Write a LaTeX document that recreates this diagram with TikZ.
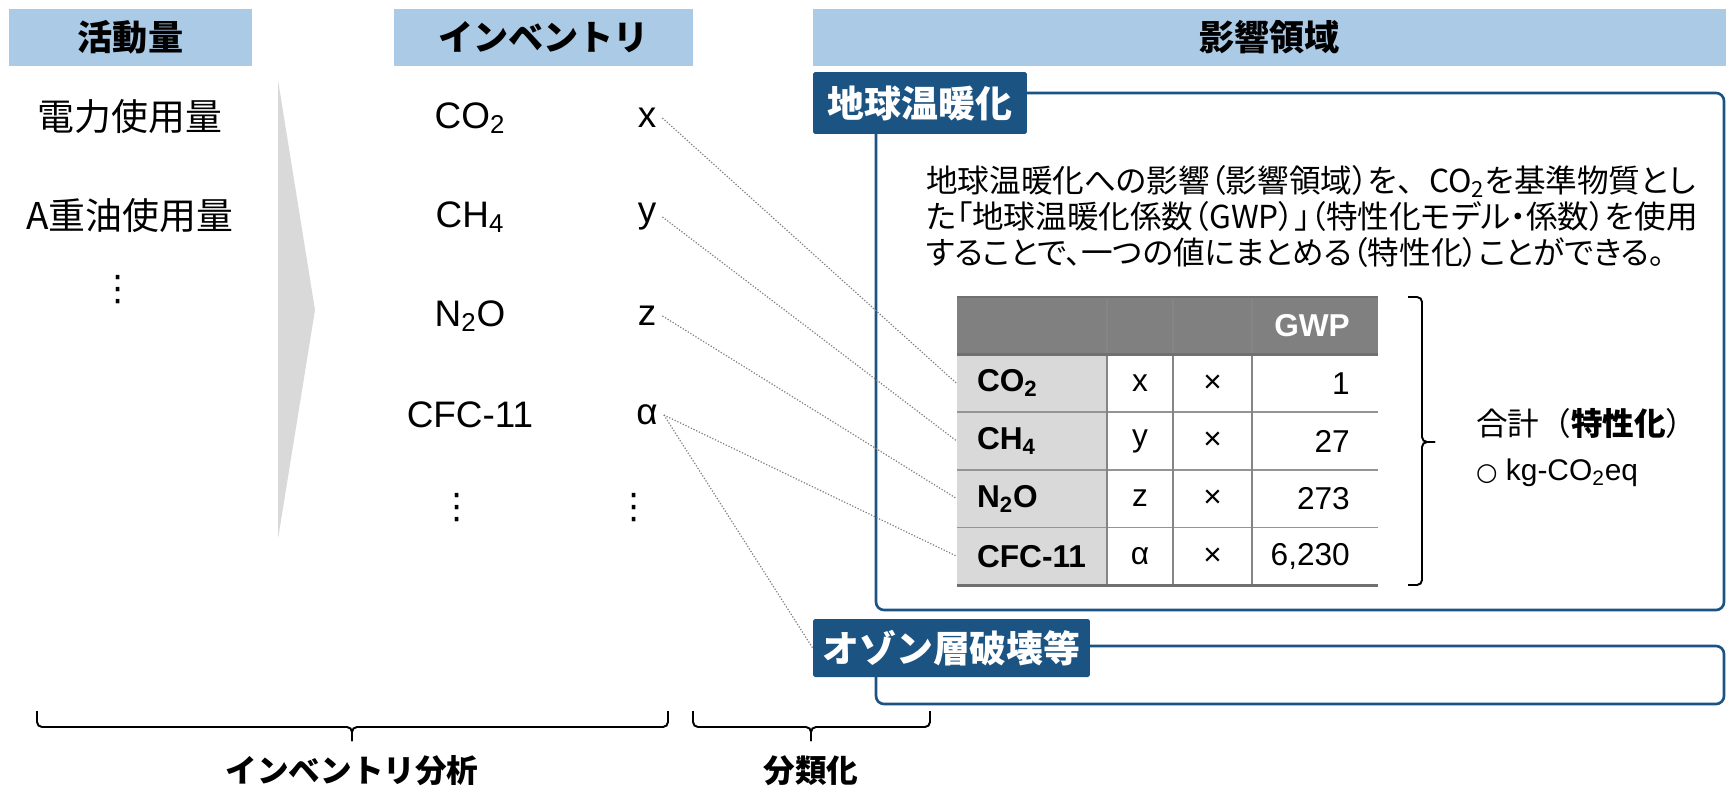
\documentclass[tikz,border=0pt]{standalone}
\usepackage{fontspec}
\setmainfont{Liberation Sans}
\newfontfamily\jp{Noto Sans CJK JP}
\newfontfamily\jpp[RawFeature=+palt]{Noto Sans CJK JP}
\newfontfamily\sym{DejaVu Sans}
\usetikzlibrary{positioning}
\definecolor{hdrblue}{RGB}{170,202,230}
\definecolor{tagblue}{RGB}{27,83,130}
\definecolor{tabdark}{RGB}{128,128,128}
\definecolor{tablight}{RGB}{217,217,217}
\definecolor{tabline}{RGB}{112,112,112}

\begin{document}
\begin{tikzpicture}
  [x=0.02cm,y=-0.02cm,
  hdr/.style={rectangle,fill=hdrblue,inner sep=0pt,minimum height=1.14cm,font=\jp\bfseries\fontsize{20}{24}\selectfont},
  tagbox/.style={rectangle,fill=tagblue,text=white,inner sep=0pt,rounded corners=1pt,font=\jp\bfseries\fontsize{21}{25}\selectfont},
  impframe/.style={draw=tagblue,line width=1.5pt,rounded corners=0.16cm},
  word/.style={font=\jp\fontsize{21}{25}\selectfont},
  gas/.style={font=\fontsize{21}{25}\selectfont},
  dots/.style={font=\sym\fontsize{20}{24}\selectfont},
  namecell/.style={rectangle,fill=tablight,inner xsep=0.4cm,inner ysep=0pt,text width=2.2cm,align=left,minimum height=1.152cm,font=\bfseries\fontsize{18}{22}\selectfont},
  val/.style={font=\fontsize{18}{22}\selectfont},
  link/.style={densely dotted,gray,line width=0.7pt},
  brc/.style={line width=1.1pt,rounded corners=0.1cm},
  sum/.style={font=\bfseries\jp\fontsize{18}{22}\selectfont}]
  \useasboundingbox (0,0) rectangle (1726,794);

  % headers
  \node[hdr,minimum width=4.86cm] (act) at (130.5,37.5) {活動量};
  \node[hdr,minimum width=5.98cm] (inv) at (543.5,37.5) {インベントリ};
  \node[hdr,minimum width=18.26cm] (imp) at (1269.5,37.5) {影響領域};

  % activity data
  \node[word] (elec) at (130,117) {電力使用量};
  \node[word] (oil) at (130,216) {A重油使用量};
  \node[dots] (actdots) at (118,290) {⋮};
  \fill[tablight] (278,80) -- (315,310) -- (278,539) -- cycle;

  % inventory
  \node[gas] (co2) at (470,118) {CO\textsubscript{2}};
  \node[gas] (ch4) at (470,217) {CH\textsubscript{4}};
  \node[gas] (n2o) at (470,316) {N\textsubscript{2}O};
  \node[gas] (cfc) at (470,415) {CFC-11};
  \node[dots] (gasdots) at (457,508) {⋮};
  \node[gas] (gx) at (647,118) {x};
  \node[gas] (gy) at (647,217) {y};
  \node[gas] (gz) at (647,316) {z};
  \node[gas] (ga) at (647,415) {α};
  \node[dots] (amtdots) at (634,508) {⋮};

  % impact categories
  \draw[impframe] (876,93) rectangle (1724,610);
  \draw[impframe] (876,646) rectangle (1724,704);
  \node[tagbox,minimum width=4.28cm,minimum height=1.24cm] (gw) at (920,103) {地球温暖化};
  \node[tagbox,minimum width=5.54cm,minimum height=1.16cm] (oz) at (951.5,648) {オゾン層破壊等};
  \node[anchor=west,align=left,font=\jpp\fontsize{18}{20.5}\selectfont] (desc) at (920,216)
    {地球温暖化への影響（影響領域）を{\jp 、}CO\textsubscript{2}を基準物質とし\\
     た「地球温暖化係数（GWP）」（特性化モデル・係数）を使用\\
     することで、一つの値にまとめる（特性化）ことができる。};

  % GWP table
  \fill[tabdark] (957,297) rectangle (1378,354.6);
  \node[namecell] (c1) at (1032,383.4) {CO\textsubscript{2}};
  \node[namecell] (c2) at (1032,441) {CH\textsubscript{4}};
  \node[namecell] (c3) at (1032,498.6) {N\textsubscript{2}O};
  \node[namecell] (c4) at (1032,556.2) {CFC-11};
  \foreach \y in {412.2,469.8,527.4}
    \draw[tabline!75,line width=1pt] (957,\y) -- (1378,\y);
  \foreach \x in {1107,1173,1252}
    \draw[tabline!85,line width=0.8pt] (\x,297) -- (\x,585);
  \draw[tabline,line width=1.2pt] (957,297) -- (1378,297);
  \draw[tabline,line width=1.7pt] (957,354.6) -- (1378,354.6);
  \draw[tabline,line width=1.7pt] (957,585) -- (1378,585);
  \node[val,anchor=east,text=white,font=\bfseries\fontsize{18}{22}\selectfont] (gwp) at (1356,326) {GWP};
  \node[val] (v1) at (1140,383.4) {x};
  \node[val] (v2) at (1140,441) {y};
  \node[val] (v3) at (1140,498.6) {z};
  \node[val] (v4) at (1140,556.2) {α};
  \foreach \y in {383.4,441,498.6,556.2}
    \node[val] at (1212.5,\y) {×};
  \node[val,anchor=east] (f1) at (1356,383.4) {1};
  \node[val,anchor=east] (f2) at (1356,441) {27};
  \node[val,anchor=east] (f3) at (1356,498.6) {273};
  \node[val,anchor=east] (f4) at (1356,556.2) {6,230};

  % total
  \draw[brc] (1408,297) -- (1422,297) -- (1422,442) -- (1435,442);
  \draw[brc] (1435,442) -- (1422,442) -- (1422,585) -- (1408,585);
  \node[anchor=west,font=\jp\fontsize{18}{22}\selectfont] (total) at (1470,423) {合計（{\bfseries 特性化}）};
  \node[anchor=west,font=\fontsize{17}{21}\selectfont] (unit) at (1470,473) {{\sym\fontsize{14}{17}\selectfont ○} kg-CO\textsubscript{2}eq};

  % classification
  \draw[link] (gx.east) -- (c1.west);
  \draw[link] (gy.east) -- (c2.west);
  \draw[link] (gz.east) -- (c3.west);
  \draw[link] (ga.east) -- (c4.west);
  \draw[link] (ga.east) -- (oz.west);

  % steps
  \draw[brc] (37,711) -- (37,727) -- (352,727) -- (352,741);
  \draw[brc] (352,741) -- (352,727) -- (668,727) -- (668,711);
  \draw[brc] (693,711) -- (693,727) -- (811,727) -- (811,741);
  \draw[brc] (811,741) -- (811,727) -- (930,727) -- (930,711);
  \node[sum] (lci) at (352,771) {インベントリ分析};
  \node[sum] (cls) at (811,771) {分類化};
\end{tikzpicture}
\end{document}
